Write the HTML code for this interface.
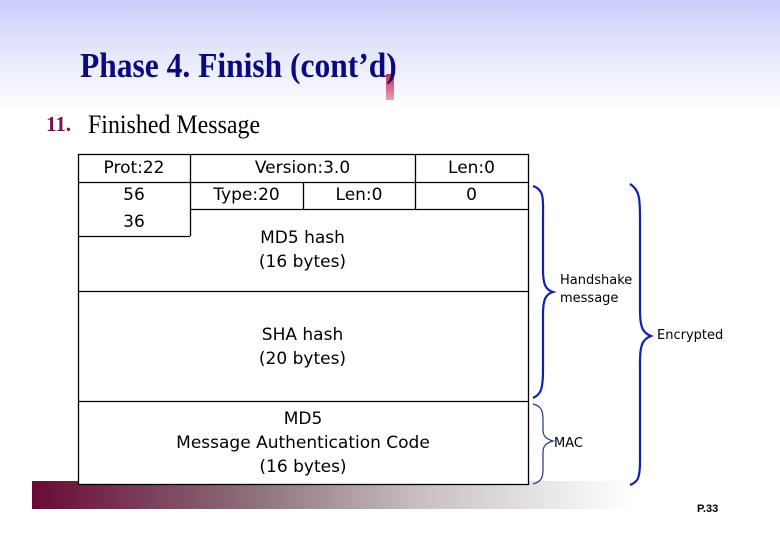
<!DOCTYPE html>
<html><head><style>
body{margin:0;width:780px;height:540px;overflow:hidden;background:#fff;position:relative;font-family:"DejaVu Sans","Liberation Sans",sans-serif}
.hdr{position:absolute;left:0;top:0;width:780px;height:110px;background:linear-gradient(#cbcdfa,#e6e8fc 50%,#fff)}
.t{position:absolute;white-space:nowrap}
.c{position:absolute;text-align:center;font-size:17px;color:#000;line-height:24px}
.bar{position:absolute;left:32px;top:481px;width:600px;height:28px;background:linear-gradient(90deg,#6a0a35,#8a6a78 35%,#c8c0c4 65%,#fff)}
</style></head><body>
<div class="hdr"></div>
<div style="position:absolute;left:386px;top:74px;width:8px;height:26px;background:linear-gradient(#c03060,#e8a0b8)"></div>
<div class="t" style="left:80px;top:46px;font:bold 35px 'Liberation Serif',serif;color:#0a0a80;transform:scaleX(0.9);transform-origin:0 0">Phase 4. Finish (cont’d)</div>
<div class="t" style="left:46px;top:112px;font:bold 21px 'Liberation Serif',serif;color:#7a1050">11.</div>
<div class="t" style="left:88px;top:110px;font:26px 'Liberation Serif',serif;transform:scaleX(0.92);transform-origin:0 0">Finished Message</div>
<div class="bar"></div>
<svg style="position:absolute;left:0;top:0" width="780" height="540">
<g fill="#fff" stroke="#000" stroke-width="1.3">
<rect x="78.5" y="154.5" width="450" height="330"/>
<line x1="78" y1="291.5" x2="529" y2="291.5"/>
<line x1="78" y1="401.5" x2="529" y2="401.5"/>
<line x1="190.5" y1="154" x2="190.5" y2="236"/>
<line x1="78" y1="236.5" x2="190" y2="236.5"/>
<line x1="78" y1="182.5" x2="529" y2="182.5"/>
<line x1="190" y1="209.5" x2="529" y2="209.5"/>
<line x1="303.5" y1="182" x2="303.5" y2="209"/>
<line x1="415.5" y1="154" x2="415.5" y2="209"/>
</g>
<g fill="none" stroke="#1020b0" stroke-width="2.2">
<path d="M533 186 C545 190,543 200,543 220 L543 270 C543 285,546 290,553 292 C546 294,543 299,543 314 L543 370 C543 392,540 394,533 398"/>
<path d="M630 184 C640 190,640 200,640 220 L640 310 C640 328,643 333,651 336 C643 339,640 344,640 362 L640 460 C640 478,638 482,630 485"/>
<path stroke-width="1.2" stroke="#203090" d="M533 404 C541 406,543 410,543 420 L543 430 C543 436,546 439,553 441 C546 443,543 446,543 452 L543 470 C543 479,540 482,533 484"/>
</g>
</svg>
<div class="c" style="left:78px;top:156px;width:112px">Prot:22</div>
<div class="c" style="left:78px;top:183px;width:112px">56</div>
<div class="c" style="left:78px;top:210px;width:112px">36</div>
<div class="c" style="left:190px;top:156px;width:225px">Version:3.0</div>
<div class="c" style="left:190px;top:183px;width:113px">Type:20</div>
<div class="c" style="left:303px;top:183px;width:112px">Len:0</div>
<div class="c" style="left:415px;top:156px;width:113px">Len:0</div>
<div class="c" style="left:415px;top:183px;width:113px">0</div>
<div class="c" style="left:190px;top:226px;width:225px">MD5 hash<br>(16 bytes)</div>
<div class="c" style="left:190px;top:323px;width:225px">SHA hash<br>(20 bytes)</div>
<div class="c" style="left:78px;top:407px;width:450px">MD5<br>Message Authentication Code<br>(16 bytes)</div>
<div class="t" style="left:560px;top:272px;font-size:13px;line-height:18px">Handshake<br>message</div>
<div class="t" style="left:657px;top:328px;font-size:13px">Encrypted</div>
<div class="t" style="left:554px;top:436px;font-size:13px">MAC</div>
<div class="t" style="left:697px;top:503px;font:bold 11px 'Liberation Sans',sans-serif">P.33</div>
</body></html>
